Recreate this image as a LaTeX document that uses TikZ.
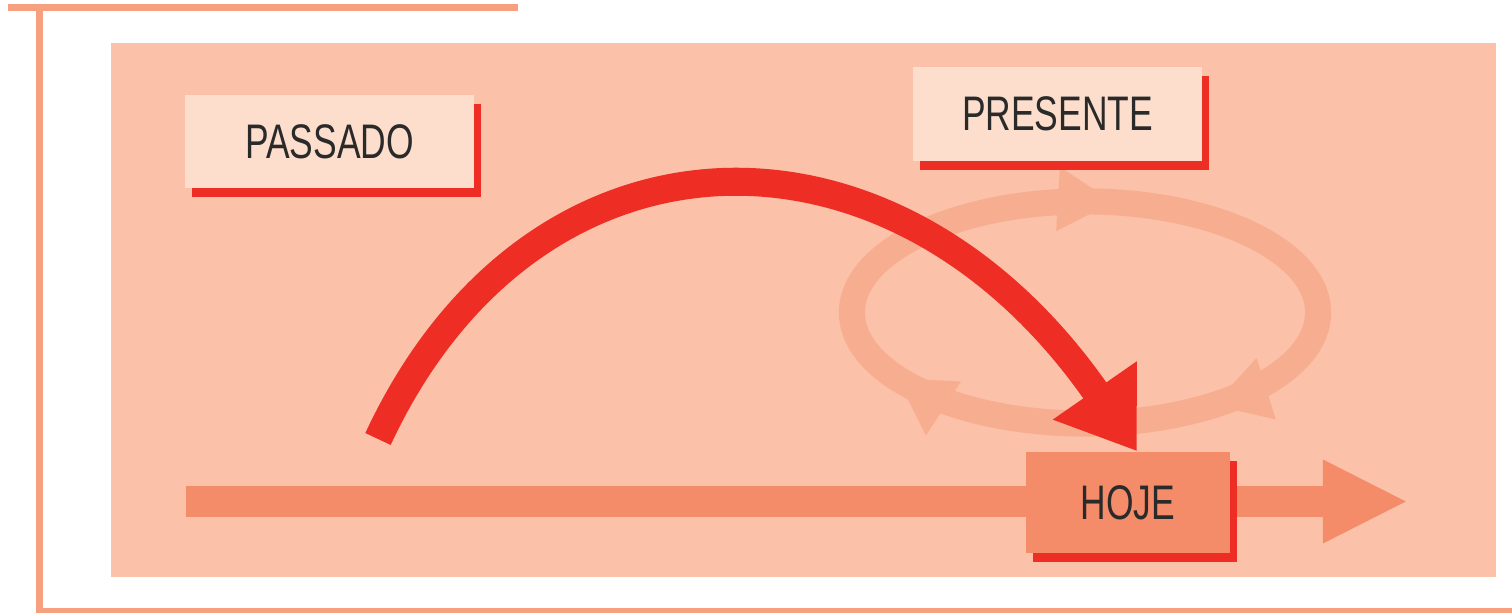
\documentclass[tikz,border=0pt]{standalone}
\usepackage{fontspec}
\newfontfamily\tagfont[FakeStretch=0.73]{Liberation Sans}
\usepackage{xcolor}
\usetikzlibrary{arrows.meta,positioning,shadows,decorations.markings}

\definecolor{framec}{HTML}{F7A07F}
\definecolor{panelc}{HTML}{FBC1A9}
\definecolor{tagfill}{HTML}{FDDECD}
\definecolor{arcred}{HTML}{EE2D24}
\definecolor{lineorange}{HTML}{F48B69}
\definecolor{ringc}{HTML}{F7AD90}
\definecolor{ink}{HTML}{2A2A2A}

\begin{document}
\begin{tikzpicture}[
  x=0.01cm,y=0.01cm,
  frame/.style={draw=framec,line cap=butt},
  tag/.style={rectangle,inner sep=0pt,minimum width=2.89cm,minimum height=0.93cm,fill=tagfill,text=ink,
    font=\tagfont\fontsize{13.8pt}{16pt}\selectfont,
    drop shadow={shadow xshift=0.07cm,shadow yshift=-0.09cm,fill=arcred,opacity=1}},
  today/.style={tag,fill=lineorange,minimum width=2.04cm,minimum height=1.01cm},
  timeline/.style={draw=lineorange,line width=0.31cm,-{Triangle[length=0.85cm,width=0.77cm]}},
  bigarc/.style={draw=arcred,line width=0.28cm,-{Triangle[length=0.74cm,width=0.97cm]}},
  ringtip/.tip={Triangle[length=0.56cm,width=0.6cm]},
  ring/.style={draw=ringc,line width=0.26cm,postaction={decorate},
    decoration={markings,
      mark=at position 0.224 with {\arrowreversed{ringtip}},
      mark=at position 0.574 with {\arrowreversed{ringtip}},
      mark=at position 0.866 with {\arrowreversed{ringtip}}}}
]
\useasboundingbox (0,0) rectangle (1512,613);

% frame and panel
\draw[frame,line width=0.07cm] (8,605.5) -- (518,605.5);
\draw[frame,line width=0.07cm] (39.5,609) -- (39.5,0);
\draw[frame,line width=0.05cm] (36,2.5) -- (1512,2.5);
\fill[panelc] (111,36) rectangle (1496,570);

% cycle of the present
\draw[ring] (1085,300.5) ellipse [x radius=2.33cm,y radius=1.11cm];

% time line
\coordinate (tstart) at (186,111.5);
\coordinate (tend) at (1408,111.5);
\draw[timeline] (tstart) -- (tend);

\node[today] (today) at (1128,110.5) {HOJE};

% jump from the past
\coordinate (arcstart) at (378,174);
\draw[bigarc] (arcstart) .. controls (532.7,505.7) and (893.8,512.3) .. ([xshift=0.09cm]today.north);

\node[tag] (past) at (329.5,471.5) {PASSADO};
\node[tag] (present) at (1057.5,499) {PRESENTE};

\end{tikzpicture}
\end{document}
